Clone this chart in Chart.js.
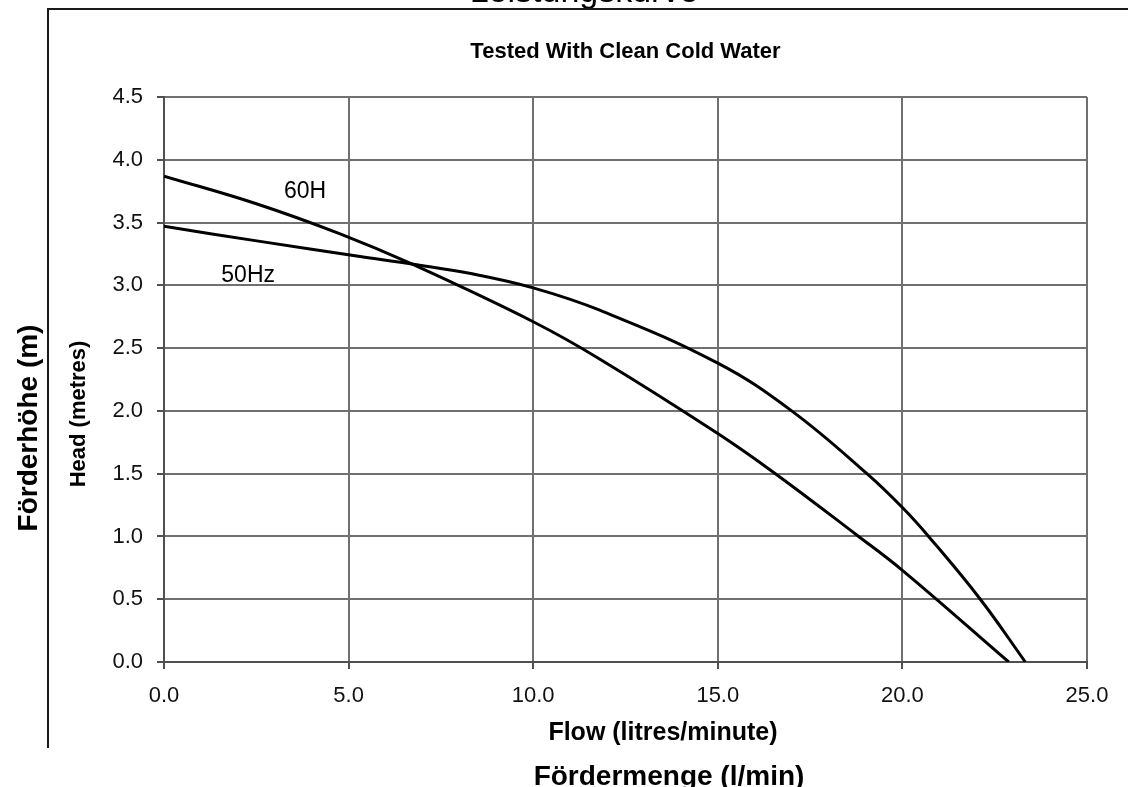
<!DOCTYPE html>
<html>
<head>
<meta charset="utf-8">
<script src="https://cdn.jsdelivr.net/npm/chart.js@4.4.1/dist/chart.umd.min.js"></script>
<style>
  html, body { margin: 0; padding: 0; background: #fff; overflow: hidden; }
  body { width: 1128px; height: 787px; position: relative; font-family: "Liberation Sans", Arial, sans-serif; }
  #wrap { position: absolute; left: 0; top: 0; width: 1128px; height: 787px; }
  .t { position: absolute; white-space: nowrap; line-height: 1; color: #000; }
  .line { position: absolute; background: #1a1a1a; }
</style>
</head>
<body>
<div id="wrap"><canvas id="c"></canvas></div>
<div class="t" id="mainTitle" style="left:584px; top:-27px; font-size:34px; transform:translateX(-50%);">Leistungskurve</div>
<div class="line" style="left:47px; top:8px; width:1081px; height:2px;"></div>
<div class="line" style="left:47px; top:8px; width:2px; height:740px;"></div>
<div class="t" style="left:28px; top:428px; font-size:28px; font-weight:bold; transform:translate(-50%,-50%) rotate(-90deg);">Förderhöhe (m)</div>
<div class="t" style="left:78px; top:414px; font-size:22px; font-weight:bold; transform:translate(-50%,-50%) rotate(-90deg);">Head (metres)</div>
<div class="t" style="left:663px; top:719px; font-size:25px; font-weight:bold; transform:translateX(-50%);">Flow (litres/minute)</div>
<div class="t" style="left:669px; top:762px; font-size:28px; font-weight:bold; transform:translateX(-50%);">Fördermenge (l/min)</div>
<script>
// ---- data ----
const flow60 = [0, 2.5, 4.77, 6.71, 10, 11.82, 15, 16.56, 18.77, 20, 22.88];
const head60 = [3.87, 3.65, 3.41, 3.17, 2.71, 2.41, 1.82, 1.5, 1.01, 0.73, 0];
const flow50 = [0, 2.6, 5.31, 6.71, 8.38, 10, 11.82, 15, 17.0, 19.04, 20, 20.71, 22.11, 23.33];
const head50 = [3.47, 3.35, 3.23, 3.17, 3.09, 2.98, 2.80, 2.38, 2.0, 1.5, 1.23, 1.0, 0.5, 0];
const seriesNames = ["60H", "50Hz"];
const labelPos = [[3.82, 3.75], [2.28, 3.08]];
const xTicks = [0, 5, 10, 15, 20, 25];
const yTicks = [0, 0.5, 1, 1.5, 2, 2.5, 3, 3.5, 4, 4.5];
const chartTitle = "Tested With Clean Cold Water";

const FONT = '"Liberation Sans", Arial, sans-serif';
const toPts = (xs, ys) => xs.map((v, i) => ({ x: v, y: ys[i] }));

const curveLabels = {
  id: 'curveLabels',
  afterDatasetsDraw(chart) {
    const { ctx, scales: { x, y } } = chart;
    ctx.save();
    ctx.font = '23px ' + FONT;
    ctx.fillStyle = '#000';
    ctx.textAlign = 'center';
    ctx.textBaseline = 'middle';
    seriesNames.forEach((n, i) => {
      ctx.fillText(n, x.getPixelForValue(labelPos[i][0]), y.getPixelForValue(labelPos[i][1]));
    });
    ctx.restore();
  }
};

const gridCommon = { color: '#707070', lineWidth: 2, tickLength: 7, tickColor: '#505050', drawTicks: true };

new Chart(document.getElementById('c'), {
  type: 'line',
  data: {
    datasets: [
      { label: seriesNames[0], data: toPts(flow60, head60), borderColor: '#000', borderWidth: 3, pointRadius: 0, tension: 0.4, fill: false },
      { label: seriesNames[1], data: toPts(flow50, head50), borderColor: '#000', borderWidth: 3, pointRadius: 0, tension: 0.4, fill: false }
    ]
  },
  options: {
    responsive: true,
    maintainAspectRatio: false,
    animation: false,
    layout: { padding: { left: 100, right: 41, top: 0, bottom: 65 } },
    plugins: {
      legend: { display: false },
      tooltip: { enabled: false },
      title: {
        display: true, text: chartTitle, fullSize: false, color: '#000',
        font: { family: FONT, size: 22, weight: 'bold' },
        padding: { top: 39, bottom: 31.6 }
      }
    },
    scales: {
      x: {
        type: 'linear', min: 0, max: 25,
        afterBuildTicks: s => { s.ticks = xTicks.map(v => ({ value: v })); },
        afterFit: s => { s.height = 60; },
        ticks: { color: '#111', font: { family: FONT, size: 22 }, padding: 14, callback: v => Number(v).toFixed(1), maxRotation: 0 },
        grid: gridCommon,
        border: { color: '#505050', width: 2 }
      },
      y: {
        type: 'linear', min: 0, max: 4.5,
        afterBuildTicks: s => { s.ticks = yTicks.map(v => ({ value: v })); },
        afterFit: s => { s.width = 64; },
        ticks: { color: '#111', font: { family: FONT, size: 22 }, padding: 14, callback: v => Number(v).toFixed(1) },
        grid: gridCommon,
        border: { color: '#505050', width: 2 }
      }
    }
  },
  plugins: [curveLabels]
});
</script>
</body>
</html>
